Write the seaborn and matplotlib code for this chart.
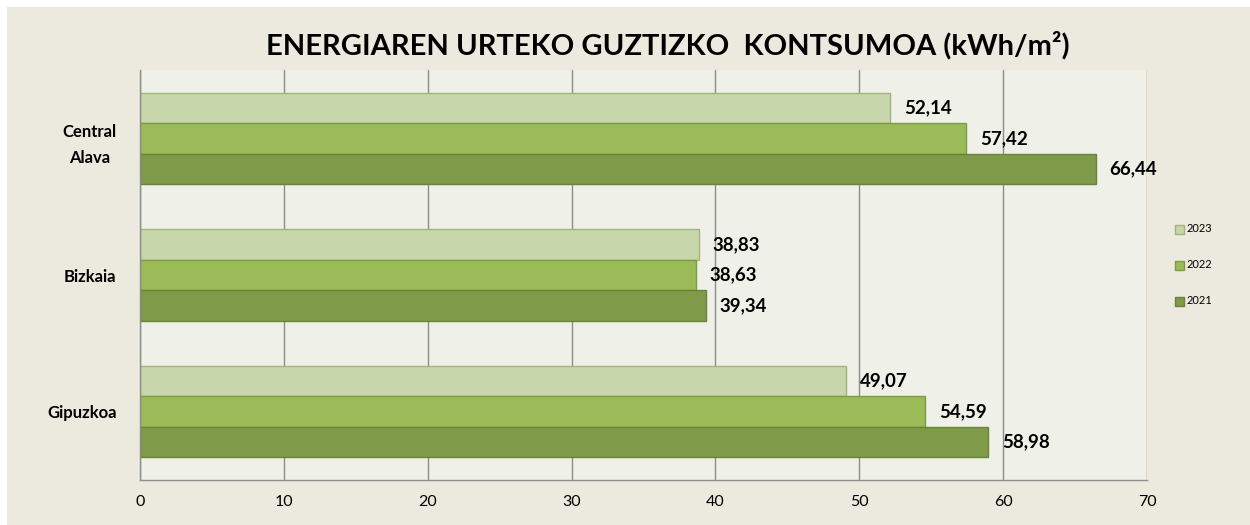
import numpy as np
import pandas as pd
import seaborn as sns
import matplotlib.pyplot as plt
from matplotlib.patches import Rectangle

# data
regions = ["Central\nAlava", "Bizkaia", "Gipuzkoa"]
years = ["2023", "2022", "2021"]
v2023 = [52.14, 38.83, 49.07]
v2022 = [57.42, 38.63, 54.59]
v2021 = [66.44, 39.34, 58.98]

df = pd.DataFrame({
    "region": regions * 3,
    "year": ["2023"] * 3 + ["2022"] * 3 + ["2021"] * 3,
    "value": v2023 + v2022 + v2021,
})

colors = {"2023": "#C7D6AB", "2022": "#9BBB59", "2021": "#7F9A48"}
edges = {"2023": "#9FB47C", "2022": "#7E9A44", "2021": "#6A8239"}

sns.set_theme(style="white")
plt.rcParams["font.family"] = ["Lato", "DejaVu Sans"]
plt.rcParams["text.color"] = "black"
plt.rcParams["xtick.color"] = "black"
plt.rcParams["ytick.color"] = "black"

fig = plt.figure(figsize=(12.5, 5.25), dpi=100, facecolor="white")
fig.patches.append(Rectangle((7 / 1250, 0), 1 - 7 / 1250, 1 - 7 / 525,
                             transform=fig.transFigure, facecolor="#ECE9DF",
                             edgecolor="none", zorder=-10))
ax = fig.add_axes([140 / 1250, 1 - 480 / 525, 1007 / 1250, 410 / 525])
ax.set_facecolor("#EFF1E8")

sns.barplot(data=df, y="region", x="value", hue="year", hue_order=years,
            order=regions, palette=colors, width=0.67, orient="h",
            saturation=1, ax=ax, legend=False)

# edge colours per hue + value labels
for cont, yr in zip(ax.containers, years):
    for bar in cont:
        bar.set_edgecolor(edges[yr])
        bar.set_linewidth(1)
    ax.bar_label(cont, labels=[f"{v:.2f}".replace(".", ",") for v in cont.datavalues],
                 padding=10, fontsize=13.5, fontweight="bold", color="black")

ax.set_xlim(0, 70)
ax.set_xticks(np.arange(0, 71, 10))
ax.xaxis.grid(True, color="#8C8C8C", linewidth=1)
ax.set_axisbelow(True)
ax.set_ylim(2.5, -0.5)
ax.set_yticks([0, 1, 2])
ax.set_yticklabels(regions, fontsize=12, fontweight="bold", linespacing=1.8,
                   multialignment="center")
ax.set_yticks([-0.5, 0.5, 1.5, 2.5], minor=True)
ax.tick_params(axis="y", which="major", length=0, pad=17)
ax.tick_params(axis="y", which="minor", length=5, color="#8C8C8C", width=1, direction="out")
ax.tick_params(axis="x", length=5, color="#8C8C8C", width=1, direction="out",
               labelsize=11.5, pad=6)
ax.set_xlabel("")
ax.set_ylabel("")
for s in ["top", "right"]:
    ax.spines[s].set_visible(False)
for s in ["left", "bottom"]:
    ax.spines[s].set_color("#8C8C8C")
    ax.spines[s].set_linewidth(1)

# legend
for i, yr in enumerate(years):
    y = 1 - (229 + i * 36) / 525
    fig.patches.append(Rectangle((1175 / 1250, y - 4.5 / 525), 9 / 1250, 9 / 525,
                                 transform=fig.transFigure, facecolor=colors[yr],
                                 edgecolor=edges[yr], linewidth=1))
    fig.text(1187 / 1250, y, yr, fontsize=8, va="center", ha="left")

fig.text(668 / 1250, 1 - 45 / 525, "ENERGIAREN URTEKO GUZTIZKO  KONTSUMOA (kWh/m²)",
         ha="center", va="center", fontsize=21, fontweight="bold")

fig.savefig("out.png", dpi=100, facecolor="white")
